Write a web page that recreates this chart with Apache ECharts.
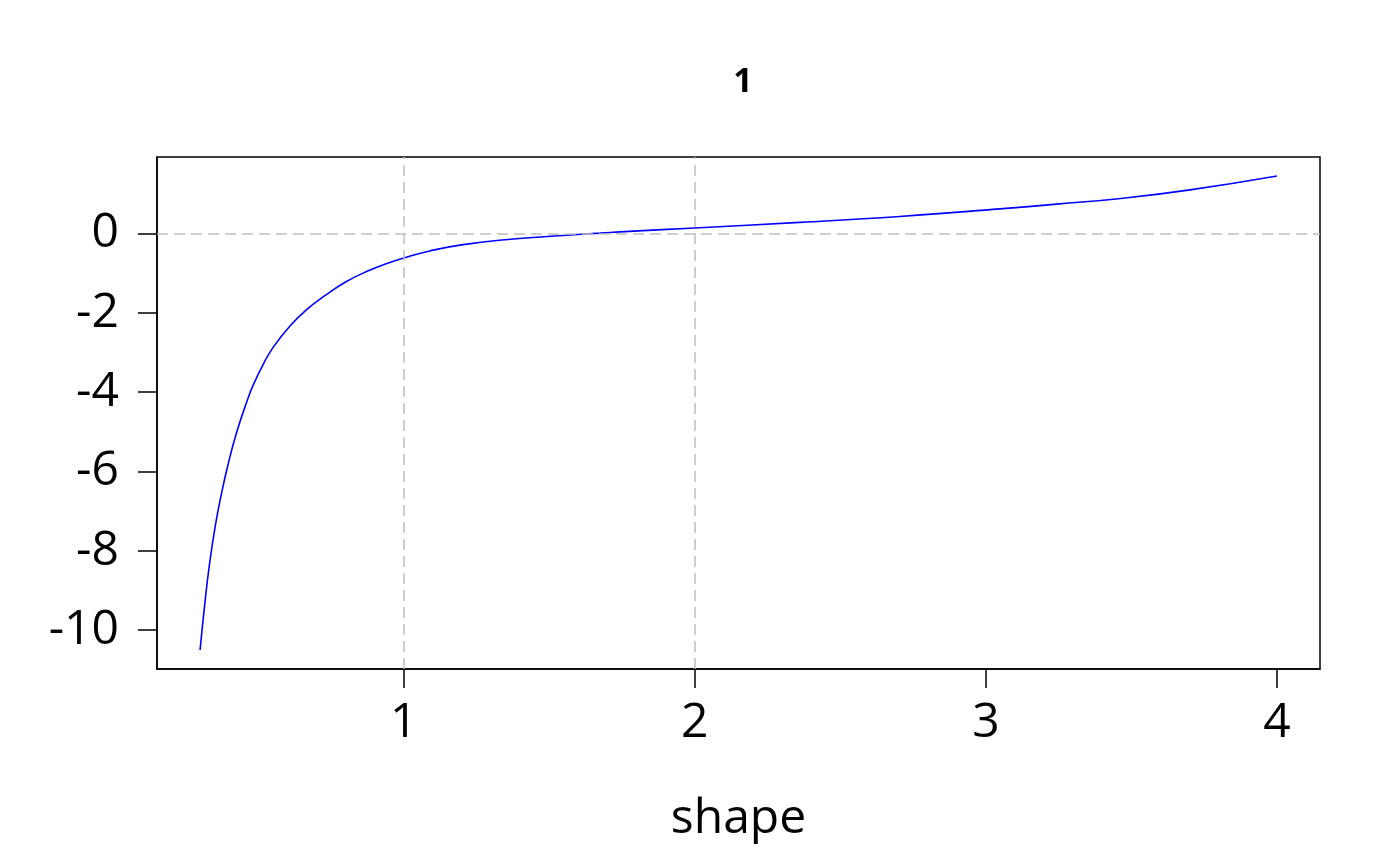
<!DOCTYPE html>
<html><head><meta charset="utf-8">
<script src="https://cdn.jsdelivr.net/npm/echarts@6/dist/echarts.min.js"></script>
<style>html,body{margin:0;padding:0;background:#fff}#c{width:1400px;height:866px}</style>
</head><body><div id="c"></div>
<script>
const titleText = '1';
const xAxisName = 'shape';
const shapeValues = [0.300, 0.316, 0.333, 0.353, 0.374, 0.396, 0.425, 0.463, 0.482, 0.517, 0.551, 0.608, 0.666, 0.734, 0.803, 0.872, 0.952, 1.000, 1.089, 1.204, 1.376, 1.547, 1.674, 1.742, 2.000, 2.361, 2.704, 3.048, 3.243, 3.472, 3.701, 4.000];
const curveValues = [-10.50, -9.35, -8.30, -7.34, -6.54, -5.83, -5.03, -4.19, -3.83, -3.30, -2.87, -2.34, -1.92, -1.54, -1.21, -0.96, -0.73, -0.62, -0.44, -0.28, -0.14, -0.05, 0.01, 0.04, 0.14, 0.28, 0.43, 0.62, 0.74, 0.89, 1.10, 1.45];
const xTicks = [1, 2, 3, 4];
const yTicks = [-10, -8, -6, -4, -2, 0];
const refVertical = [1, 2];
const refHorizontal = [0];

const font = 'Open Sans';
const chart = echarts.init(document.getElementById('c'), null, {renderer: 'canvas'});
const pairs = shapeValues.map((x, i) => [x, curveValues[i]]);
const xr = [Math.min(...shapeValues), Math.max(...shapeValues)];
const yr = [Math.min(...curveValues), Math.max(...curveValues)];
const xpad = (xr[1] - xr[0]) * 0.04, ypad = (yr[1] - yr[0]) * 0.04;

const refLines = refVertical.map(v => ({xAxis: v})).concat(refHorizontal.map(v => ({yAxis: v})));

chart.setOption({
  animation: false,
  backgroundColor: '#ffffff',
  title: {
    text: titleText, left: 738, textAlign: 'center', top: 60,
    textStyle: {fontFamily: font, fontWeight: 'bold', fontSize: 34, color: '#000'}
  },
  grid: {left: 157, right: 80, top: 157, bottom: 197, show: true, borderColor: '#000', borderWidth: 1.5, backgroundColor: 'transparent'},
  xAxis: {
    type: 'value', min: xr[0] - xpad, max: xr[1] + xpad,
    name: xAxisName, nameLocation: 'middle', nameGap: 126,
    nameTextStyle: {fontFamily: font, fontSize: 48, color: '#000'},
    axisLine: {show: true, onZero: false, lineStyle: {color: '#000', width: 1.5}},
    axisTick: {show: true, customValues: xTicks, length: 19, inside: false, lineStyle: {color: '#000', width: 1.5}},
    axisLabel: {customValues: xTicks, margin: 30, fontFamily: font, fontSize: 48, color: '#000'},
    splitLine: {show: false}
  },
  yAxis: {
    type: 'value', min: yr[0] - ypad, max: yr[1] + ypad,
    axisLine: {show: true, onZero: false, lineStyle: {color: '#000', width: 1.5}},
    axisTick: {show: true, customValues: yTicks, length: 19, inside: false, lineStyle: {color: '#000', width: 1.5}},
    axisLabel: {customValues: yTicks, margin: 38, fontFamily: font, fontSize: 48, color: '#000'},
    splitLine: {show: false}
  },
  series: [
    {
      type: 'line', data: [], z: 1, silent: true,
      markLine: {
        silent: true, symbol: ['none', 'none'], label: {show: false},
        lineStyle: {type: [11, 6], color: '#BEBEBE', width: 1.5},
        emphasis: {disabled: true},
        data: refLines
      }
    },
    {
      type: 'line', data: pairs, z: 2, showSymbol: false, smooth: 0.5,
      lineStyle: {color: '#0000FF', width: 1.6}, itemStyle: {color: '#0000FF'}, silent: true
    }
  ]
});
</script></body></html>
